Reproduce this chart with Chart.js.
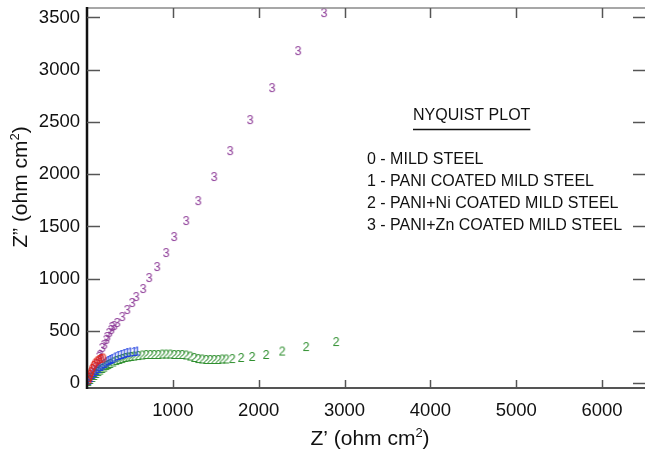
<!DOCTYPE html>
<html><head><meta charset="utf-8">
<script src="https://cdn.jsdelivr.net/npm/chart.js@4"></script>
<style>html,body{margin:0;padding:0;background:#fff}#wrap{width:645px;height:454px}</style>
</head><body><div id="wrap"><canvas id="c" width="645" height="454"></canvas></div>
<script>
// ---- data ----
const seriesNames = ['0 - MILD STEEL', '1 - PANI COATED MILD STEEL', '2 - PANI+Ni COATED MILD STEEL', '3 - PANI+Zn COATED MILD STEEL'];
const seriesMarkers = ['0', '1', '2', '3'];
const seriesColors = ['#e02418', '#1f3fe0', '#2f8f2f', '#8e3c98'];

const mildX = [15, 27, 38, 50, 62, 79, 97, 120, 143, 166, 190];
const mildY = [22, 51, 79, 108, 137, 165, 189, 208, 223, 232, 237];

const paniX = [15, 38, 62, 85, 108, 132, 155, 178, 201, 225, 248, 271, 294, 329, 364, 399, 434, 469, 504, 550, 585];
const paniY = [22, 51, 79, 99, 118, 137, 156, 170, 185, 199, 213, 223, 232, 247, 261, 271, 280, 290, 295, 299, 304];

const niX = [15, 38, 62, 85, 108, 132, 155, 178, 201, 225, 248, 271, 306, 341, 376, 411, 446, 480, 515, 550, 597, 644, 690, 737, 783, 830, 877, 923, 970, 1016, 1063, 1109, 1156, 1203, 1249, 1296, 1342, 1389, 1435, 1482, 1529, 1575, 1622, 1692, 1796, 1924, 2087, 2274, 2553, 2902];
const niY = [12, 32, 51, 70, 89, 108, 122, 137, 151, 165, 175, 185, 199, 213, 223, 232, 242, 247, 252, 256, 261, 266, 271, 271, 271, 271, 275, 275, 275, 271, 271, 271, 266, 256, 242, 232, 228, 223, 223, 223, 223, 228, 228, 232, 242, 252, 271, 304, 347, 395];

const znX = [27, 38, 62, 85, 108, 120, 143, 155, 178, 201, 225, 236, 259, 283, 294, 318, 353, 411, 469, 527, 574, 655, 725, 818, 923, 1016, 1156, 1296, 1482, 1668, 1901, 2157, 2460, 2762];
const znY = [32, 60, 98, 127, 156, 185, 252, 271, 338, 367, 414, 443, 481, 510, 538, 548, 577, 634, 701, 768, 825, 902, 1007, 1112, 1246, 1399, 1552, 1743, 1973, 2221, 2518, 2824, 3178, 3541];

const xTickValues = [1000, 2000, 3000, 4000, 5000, 6000];
const yTickValues = [0, 500, 1000, 1500, 2000, 2500, 3000, 3500];
const plotTitle = 'NYQUIST PLOT';
const xTitle = "Z\u2019 (ohm cm";
const yTitle = "Z\u201D (ohm cm";

// ---- helpers ----
const FONT = '"Liberation Sans", Arial, Helvetica, sans-serif';
function makeMarker(ch, color) {
  const cv = document.createElement('canvas');
  cv.width = 10; cv.height = 14;
  const g = cv.getContext('2d');
  g.font = '12.5px ' + FONT;
  g.fillStyle = color;
  g.textAlign = 'center';
  g.textBaseline = 'middle';
  g.fillText(ch, 5, 7.5);
  return cv;
}
function pts(xs, ys) { return xs.map((x, i) => ({ x: x, y: ys[i] })); }

const allX = [mildX, paniX, niX, znX];
const allY = [mildY, paniY, niY, znY];
const datasets = seriesNames.map((name, i) => ({
  label: name,
  data: pts(allX[i], allY[i]),
  pointStyle: makeMarker(seriesMarkers[i], seriesColors[i]),
  pointRadius: 5,
  borderColor: seriesColors[i],
  backgroundColor: seriesColors[i],
  showLine: false
}));

const framePlugin = {
  id: 'frame',
  afterDraw(chart) {
    const ctx = chart.ctx, a = chart.chartArea;
    const xs = chart.scales.x, ys = chart.scales.y;
    ctx.save();
    ctx.strokeStyle = '#8a8a8a'; ctx.lineWidth = 1.5;
    ctx.beginPath(); ctx.moveTo(a.left, a.top); ctx.lineTo(a.right, a.top); ctx.stroke();
    ctx.strokeStyle = '#555'; ctx.lineWidth = 2;
    ctx.beginPath(); ctx.moveTo(a.left, a.bottom); ctx.lineTo(a.right, a.bottom); ctx.stroke();
    ctx.strokeStyle = '#111'; ctx.lineWidth = 2.5;
    ctx.beginPath(); ctx.moveTo(a.left, a.top - 1); ctx.lineTo(a.left, a.bottom + 1); ctx.stroke();
    ctx.strokeStyle = '#555'; ctx.lineWidth = 1.5;
    yTickValues.forEach(v => {
      const p = Math.round(ys.getPixelForValue(v)) + 0.5;
      if (v !== 0) { ctx.beginPath(); ctx.moveTo(a.left, p); ctx.lineTo(a.left + 13, p); ctx.stroke(); }
      ctx.beginPath(); ctx.moveTo(a.right, p); ctx.lineTo(a.right - 12, p); ctx.stroke();
    });
    xTickValues.forEach(v => {
      const p = Math.round(xs.getPixelForValue(v)) + 0.5;
      ctx.beginPath(); ctx.moveTo(p, a.bottom); ctx.lineTo(p, a.bottom - 8); ctx.stroke();
      ctx.beginPath(); ctx.moveTo(p, a.top); ctx.lineTo(p, a.top + 10); ctx.stroke();
    });
    ctx.fillStyle = '#111';
    function titleWithSup(base, cx, cy) {
      ctx.font = '21px ' + FONT;
      const w1 = ctx.measureText(base).width;
      ctx.font = '13px ' + FONT;
      const w2 = ctx.measureText('2').width;
      ctx.font = '21px ' + FONT;
      const w3 = ctx.measureText(')').width;
      const total = w1 + w2 + w3;
      let x0 = cx - total / 2;
      ctx.textAlign = 'left'; ctx.textBaseline = 'alphabetic';
      ctx.fillText(base, x0, cy);
      ctx.font = '13px ' + FONT;
      ctx.fillText('2', x0 + w1, cy - 8);
      ctx.font = '21px ' + FONT;
      ctx.fillText(')', x0 + w1 + w2, cy);
    }
    titleWithSup(xTitle, 370, 445);
    ctx.save();
    ctx.translate(27, 187);
    ctx.rotate(-Math.PI / 2);
    titleWithSup(yTitle, 0, 0);
    ctx.restore();
    ctx.font = '16px ' + FONT;
    ctx.textAlign = 'left'; ctx.textBaseline = 'middle';
    ctx.fillStyle = '#111';
    const tw = ctx.measureText(plotTitle).width;
    ctx.fillText(plotTitle, 413, 116);
    ctx.strokeStyle = '#111'; ctx.lineWidth = 1.5;
    ctx.beginPath(); ctx.moveTo(413, 129.5); ctx.lineTo(413 + tw, 129.5); ctx.stroke();
    const rowsY = [160, 182, 204, 226];
    seriesNames.forEach((n, i) => ctx.fillText(n, 367, rowsY[i]));
    ctx.restore();
  }
};

function noPad(s) { s.paddingTop = 0; s.paddingBottom = 0; s.paddingLeft = 0; s.paddingRight = 0; }

new Chart(document.getElementById('c'), {
  type: 'scatter',
  data: { datasets: datasets },
  options: {
    responsive: false,
    animation: false,
    devicePixelRatio: 1,
    layout: { autoPadding: false, padding: { top: 8, right: 0, left: 0, bottom: 0 } },
    plugins: { legend: { display: false }, tooltip: { enabled: false } },
    scales: {
      x: {
        type: 'linear', min: 0, max: 6500,
        grid: { display: false, drawTicks: false }, border: { display: false },
        afterBuildTicks: s => { s.ticks = xTickValues.map(v => ({ value: v })); },
        afterFit: s => { s.height = 66; noPad(s); },
        ticks: { color: '#111', padding: 12, maxRotation: 0, font: { family: FONT, size: 18.5 }, callback: v => String(v) }
      },
      y: {
        type: 'linear', min: -45, max: 3590,
        grid: { display: false, drawTicks: false }, border: { display: false },
        afterBuildTicks: s => { s.ticks = yTickValues.map(v => ({ value: v })); },
        afterFit: s => { s.width = 87; noPad(s); },
        ticks: { color: '#111', padding: 7, font: { family: FONT, size: 18.5 }, callback: v => String(v) }
      }
    }
  },
  plugins: [framePlugin]
});
</script>
</body></html>
